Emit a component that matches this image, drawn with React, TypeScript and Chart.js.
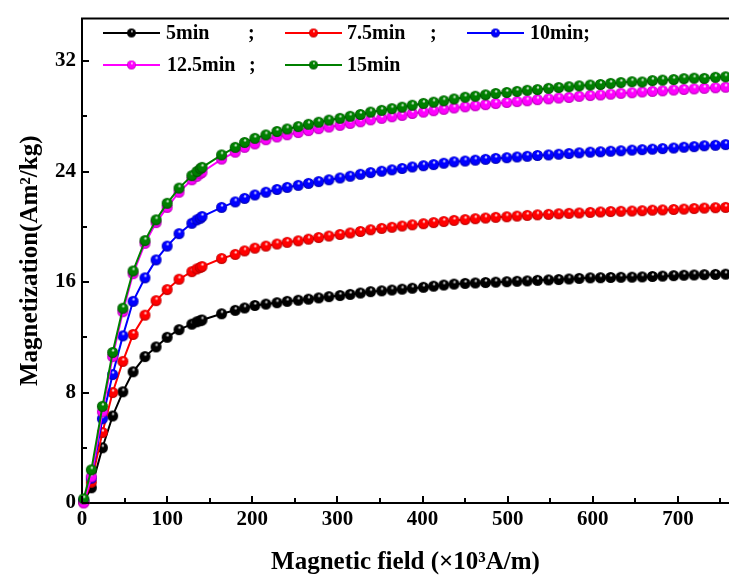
import React, { useEffect, useRef } from "react";
import { Chart, registerables } from "chart.js";

Chart.register(...registerables);

// Magnetic field (×10³ A/m)
const FIELD = [
  2, 11, 24, 36, 48, 60, 74, 87, 100, 114, 129, 135, 139, 141, 164, 180, 191, 203, 216,
  229, 241, 254, 266, 278, 290, 303, 315, 327, 339, 352, 364, 376, 388, 401, 413, 425, 437, 450, 462,
  474, 486, 499, 511, 523, 535, 548, 560, 572, 584, 597, 609, 621, 633, 646, 658, 670, 682, 695, 707,
  719, 731, 744, 756,
];

const M_5MIN = [
  0.1, 1.1, 4.0, 6.3, 8.05, 9.5, 10.6, 11.3, 12.0, 12.55, 12.95, 13.12, 13.2, 13.25, 13.7, 13.95, 14.12, 14.3, 14.4,
  14.5, 14.6, 14.68, 14.76, 14.85, 14.94, 15.02, 15.1, 15.2, 15.3, 15.36, 15.42, 15.48, 15.55, 15.62, 15.7, 15.78, 15.85, 15.9, 15.93,
  15.96, 15.99, 16.02, 16.05, 16.08, 16.12, 16.15, 16.18, 16.22, 16.26, 16.3, 16.31, 16.33, 16.34, 16.35, 16.37, 16.4, 16.43, 16.46, 16.49,
  16.51, 16.53, 16.55, 16.57,
];

const M_7_5MIN = [
  0.1, 1.5, 5.1, 8.0, 10.25, 12.2, 13.6, 14.65, 15.45, 16.2, 16.75, 16.95, 17.05, 17.12, 17.7, 18.0, 18.25, 18.45, 18.6,
  18.75, 18.87, 18.98, 19.1, 19.22, 19.33, 19.44, 19.55, 19.66, 19.78, 19.88, 19.96, 20.05, 20.14, 20.22, 20.3, 20.38, 20.46, 20.52, 20.58,
  20.63, 20.68, 20.72, 20.77, 20.82, 20.86, 20.9, 20.94, 20.97, 21.0, 21.04, 21.07, 21.1, 21.12, 21.14, 21.16, 21.2, 21.22, 21.25, 21.28,
  21.32, 21.35, 21.38, 21.4,
];

const M_10MIN = [
  0.2, 1.8, 6.1, 9.3, 12.1, 14.6, 16.3, 17.6, 18.6, 19.5, 20.25, 20.5, 20.62, 20.74, 21.4, 21.8, 22.05, 22.3, 22.5,
  22.7, 22.85, 23.0, 23.14, 23.27, 23.4, 23.53, 23.66, 23.8, 23.92, 24.02, 24.12, 24.22, 24.33, 24.42, 24.5, 24.6, 24.7, 24.76, 24.82,
  24.88, 24.95, 25.0, 25.05, 25.1, 25.16, 25.2, 25.25, 25.3, 25.35, 25.4, 25.43, 25.47, 25.5, 25.55, 25.58, 25.62, 25.66, 25.7, 25.76,
  25.8, 25.86, 25.9, 25.95,
];

const M_12_5MIN = [
  0.0, 1.9, 6.6, 10.6, 13.85, 16.6, 18.8, 20.3, 21.4, 22.5, 23.4, 23.65, 23.85, 23.95, 24.9, 25.4, 25.75, 26.0, 26.3,
  26.5, 26.66, 26.82, 26.96, 27.1, 27.22, 27.34, 27.48, 27.6, 27.74, 27.85, 27.96, 28.06, 28.2, 28.3, 28.4, 28.5, 28.6, 28.68, 28.76,
  28.84, 28.92, 29.0, 29.06, 29.12, 29.2, 29.26, 29.32, 29.36, 29.44, 29.5, 29.54, 29.6, 29.66, 29.7, 29.76, 29.8, 29.84, 29.9, 29.94,
  29.98, 30.02, 30.06, 30.1,
];

const M_15MIN = [
  0.3, 2.4, 7.0, 10.9, 14.1, 16.8, 19.0, 20.5, 21.7, 22.8, 23.7, 24.0, 24.2, 24.3, 25.2, 25.75, 26.1, 26.4, 26.65,
  26.9, 27.08, 27.25, 27.42, 27.57, 27.72, 27.85, 28.0, 28.13, 28.3, 28.43, 28.55, 28.66, 28.8, 28.93, 29.02, 29.12, 29.25, 29.38, 29.45,
  29.55, 29.65, 29.72, 29.8, 29.88, 29.93, 30.02, 30.08, 30.14, 30.2, 30.26, 30.3, 30.38, 30.44, 30.5, 30.48, 30.58, 30.62, 30.66, 30.72,
  30.76, 30.74, 30.82, 30.86,
];

const SERIES_NAMES = ["5min", "7.5min", "10min", "12.5min", "15min"];
const SERIES_SEPARATORS = [";", ";", ";", ";", ""];
const SERIES_VALUES = [M_5MIN, M_7_5MIN, M_10MIN, M_12_5MIN, M_15MIN];

const X_TICKS = [0, 100, 200, 300, 400, 500, 600, 700];
const X_MINOR = [50, 150, 250, 350, 450, 550, 650, 750];
const Y_TICKS = [0, 8, 16, 24, 32];
const Y_MINOR = [4, 12, 20, 28];

const X_TITLE = "Magnetic field (×10³A/m)";
const Y_TITLE = "Magnetization(Am²/kg)";

const COLORS = ["#000000", "#ff0000", "#0000ff", "#ff00ff", "#008000"];
const EDGE = ["#000000", "#b00000", "#0000a8", "#b000b0", "#004d00"];

const FONT_FAMILY = '"Liberation Serif", "Times New Roman", serif';

// legend layout: [lineStartX, centerY, textX, separatorX]
const LEGEND_POS = [
  [103, 33, 166, 248],
  [285, 33, 347, 430],
  [467, 33, 530, 0],
  [103, 65, 167, 249],
  [285, 65, 347, 0],
];

function makeSphere(color: string, edge: string, r: number) {
  const size = Math.ceil(r * 2) + 2;
  const c = document.createElement("canvas");
  c.width = size;
  c.height = size;
  const ctx = c.getContext("2d")!;
  const cx = size / 2;
  const cy = size / 2;
  const g = ctx.createRadialGradient(cx + r * 0.1, cy - r * 0.45, r * 0.05, cx, cy, r);
  g.addColorStop(0, "#ffffff");
  g.addColorStop(0.28, color);
  g.addColorStop(0.75, color);
  g.addColorStop(1, edge);
  ctx.fillStyle = g;
  ctx.beginPath();
  ctx.arc(cx, cy, r, 0, Math.PI * 2);
  ctx.fill();
  return c;
}

export default function App() {
  const ref = useRef<HTMLCanvasElement | null>(null);

  useEffect(() => {
    const canvas = ref.current;
    if (!canvas) return;

    const bigSpheres = COLORS.map((c, i) => makeSphere(c, EDGE[i], 5.5));
    const smallSpheres = COLORS.map((c, i) => makeSphere(c, EDGE[i], 4.5));

    const datasets = SERIES_VALUES.map((vals, i) => ({
      label: SERIES_NAMES[i],
      data: FIELD.map((x, j) => ({ x, y: vals[j] })),
      borderColor: COLORS[i],
      backgroundColor: COLORS[i],
      borderWidth: 2,
      pointStyle: bigSpheres[i] as any,
      pointRadius: 5,
      tension: 0,
      order: 5 - i,
      clip: 8,
    }));

    const framePlugin = {
      id: "frameTicksLegend",
      afterDraw(chart: any) {
        const { ctx, chartArea } = chart;
        const xs = chart.scales.x;
        const ys = chart.scales.y;
        ctx.save();
        ctx.strokeStyle = "#000";
        ctx.lineWidth = 2;
        // top frame
        ctx.beginPath();
        ctx.moveTo(chartArea.left - 1, chartArea.top);
        ctx.lineTo(chartArea.right, chartArea.top);
        ctx.stroke();
        // x ticks (inward)
        const b = chartArea.bottom;
        X_TICKS.forEach((v) => {
          const px = Math.round(xs.getPixelForValue(v));
          ctx.beginPath();
          ctx.moveTo(px, b);
          ctx.lineTo(px, b - 7);
          ctx.stroke();
        });
        X_MINOR.forEach((v) => {
          const px = Math.round(xs.getPixelForValue(v));
          if (px > chartArea.right) return;
          ctx.beginPath();
          ctx.moveTo(px, b);
          ctx.lineTo(px, b - 5);
          ctx.stroke();
        });
        const l = chartArea.left;
        Y_TICKS.forEach((v) => {
          const py = Math.round(ys.getPixelForValue(v));
          ctx.beginPath();
          ctx.moveTo(l, py);
          ctx.lineTo(l + 7, py);
          ctx.stroke();
        });
        Y_MINOR.forEach((v) => {
          const py = Math.round(ys.getPixelForValue(v));
          ctx.beginPath();
          ctx.moveTo(l, py);
          ctx.lineTo(l + 5, py);
          ctx.stroke();
        });

        // legend
        ctx.font = `bold 20px ${FONT_FAMILY}`;
        ctx.textBaseline = "middle";
        ctx.textAlign = "left";
        LEGEND_POS.forEach((p, i) => {
          const [lx, cy, tx, sx] = p;
          ctx.strokeStyle = COLORS[i];
          ctx.lineWidth = 2;
          ctx.beginPath();
          ctx.moveTo(lx, cy);
          ctx.lineTo(lx + 57, cy);
          ctx.stroke();
          const s = smallSpheres[i];
          ctx.drawImage(s, lx + 28.5 - s.width / 2, cy - s.height / 2);
          ctx.fillStyle = "#000";
          let label = SERIES_NAMES[i];
          if (SERIES_SEPARATORS[i] && !sx) label += SERIES_SEPARATORS[i];
          ctx.fillText(label, tx, cy + 1);
          if (SERIES_SEPARATORS[i] && sx) ctx.fillText(SERIES_SEPARATORS[i], sx, cy + 1);
        });
        ctx.restore();
      },
    };

    const tickFont = { family: FONT_FAMILY, size: 21, weight: "bold" as const };
    const titleFont = { family: FONT_FAMILY, size: 25, weight: "bold" as const };
    const xTitleFont = { family: FONT_FAMILY, size: 25, weight: "bold" as const, lineHeight: 1.0 };

    const chart = new Chart(canvas, {
      type: "line",
      data: { datasets: datasets as any },
      options: {
        animation: false,
        responsive: false,
        devicePixelRatio: 1,
        layout: { autoPadding: false, padding: { left: 0, top: 12, right: 0, bottom: 0 } },
        plugins: { legend: { display: false }, tooltip: { enabled: false } },
        scales: {
          x: {
            type: "linear",
            min: 0,
            max: 760,
            grid: { display: false, drawTicks: false },
            border: { display: true, color: "#000", width: 2 },
            ticks: { color: "#000", font: tickFont, padding: 4, maxRotation: 0, autoSkip: false },
            afterBuildTicks: (s: any) => {
              s.ticks = X_TICKS.map((v) => ({ value: v }));
            },
            afterFit: (s: any) => {
              s.height = 72;
            },
            title: { display: true, text: X_TITLE, color: "#000", font: xTitleFont, padding: { top: 0, bottom: 0 } },
          },
          y: {
            type: "linear",
            min: 0,
            max: 35.07,
            grid: { display: false, drawTicks: false },
            border: { display: true, color: "#000", width: 2 },
            ticks: { color: "#000", font: tickFont, padding: 6 },
            afterBuildTicks: (s: any) => {
              s.ticks = Y_TICKS.map((v) => ({ value: v }));
            },
            afterFit: (s: any) => {
              s.width = 82;
            },
            title: { display: true, text: Y_TITLE, color: "#000", font: titleFont, padding: { top: 16, bottom: 0 } },
          },
        },
      },
      plugins: [framePlugin],
    });

    return () => chart.destroy();
  }, []);

  return (
    <div style={{ position: "absolute", left: 0, top: 0, width: 729, height: 575, background: "#fff" }}>
      <canvas ref={ref} width={729} height={575} style={{ display: "block" }} />
    </div>
  );
}
